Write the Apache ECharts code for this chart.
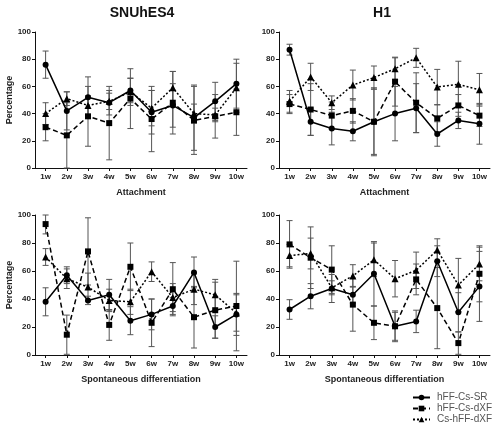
<!DOCTYPE html>
<html><head><meta charset="utf-8">
<script src="https://cdn.jsdelivr.net/npm/echarts@6/dist/echarts.min.js"></script>
<style>html,body{margin:0;padding:0;background:#fff}#c{width:494px;height:430px}</style>
</head><body><div id="c"></div><script>
const categories = ['1w','2w','3w','4w','5w','6w','7w','8w','9w','10w'];
const seriesNames = ['hFF-Cs-SR','hFF-Cs-dXF','Cs-hFF-dXF'];
const panelTitles = ['SNUhES4','H1'];
const xNames = ['Attachment','Spontaneous differentiation'];

// SNUhES4 - Attachment
const s4AttSR   = [76, 42, 52, 48, 57, 41, 46, 37, 49, 62];
const s4AttSRe  = [10, 14, 15, 9, 9, 16, 16, 24, 14, 18];
const s4AttDX   = [30, 24, 38, 33, 51, 36, 48, 35, 38, 41];
const s4AttDXe  = [10, 24, 22, 27, 22, 24, 23, 25, 16, 17];
const s4AttCS   = [40, 51, 46, 49, 56, 44, 59, 40, 39, 59];
const s4AttCSe  = [8, 5, 7, 6, 10, 13, 12, 7, 5, 18];
// H1 - Attachment
const h1AttSR   = [87, 34, 29, 27, 34, 40, 44, 25, 35, 32.5];
const h1AttSRe  = [4, 10, 12, 7, 25, 20, 18, 9, 6, 15];
const h1AttDX   = [47, 43, 38.5, 42, 34, 63.5, 48, 36.5, 46, 38.5];
const h1AttDXe  = [7, 19, 10, 9, 24, 18, 22, 10, 8, 8];
const h1AttCS   = [49, 67, 48, 61, 66.5, 73, 81, 59.5, 61.5, 57.5];
const h1AttCSe  = [8, 10, 5, 11, 8.5, 8, 7, 13, 17, 12];
// SNUhES4 - Spontaneous differentiation
const s4SdSR    = [38, 57, 39, 43, 24.5, 29, 35, 59, 20, 29];
const s4SdSRe   = [10, 6, 3, 11, 10, 11, 6, 11, 8, 15];
const s4SdDX    = [93.5, 14.5, 74, 21.5, 63, 23, 47, 27, 32, 35];
const s4SdDXe   = [7, 14, 24, 11, 17, 17, 19, 22, 20, 32];
const s4SdCS    = [70, 54.5, 48.5, 39, 38, 59.5, 41, 47, 43, 30];
const s4SdCSe   = [6, 7, 10, 8, 9, 7, 10, 11, 11, 13];
// H1 - Spontaneous differentiation
const h1SdSR    = [32.5, 42, 47.5, 43, 58, 20.5, 24, 67, 30.5, 49];
const h1SdSRe   = [7, 9, 10, 6, 23, 10, 8, 11, 14, 25];
const h1SdDX    = [79, 69.5, 61, 36, 23, 20.5, 54, 33.5, 8.5, 58];
const h1SdDXe   = [17, 22, 17, 19, 12, 11, 11, 29, 8, 20];
const h1SdCS    = [71, 72.5, 48, 56.5, 68, 54.5, 60.5, 75, 50, 65];
const h1SdCSe   = [8, 11, 5, 8, 12, 13, 13, 8, 19, 12];

const panels = [
  {grid:{left:35,top:32,width:212,height:136}, xName:xNames[0], yName:'Percentage',
   d:[[s4AttSR,s4AttSRe],[s4AttDX,s4AttDXe],[s4AttCS,s4AttCSe]]},
  {grid:{left:279,top:32,width:211,height:136}, xName:xNames[0], yName:'',
   d:[[h1AttSR,h1AttSRe],[h1AttDX,h1AttDXe],[h1AttCS,h1AttCSe]]},
  {grid:{left:35,top:215,width:212,height:140}, xName:xNames[1], yName:'Percentage',
   d:[[s4SdSR,s4SdSRe],[s4SdDX,s4SdDXe],[s4SdCS,s4SdCSe]]},
  {grid:{left:279,top:215,width:211,height:140}, xName:xNames[1], yName:'',
   d:[[h1SdSR,h1SdSRe],[h1SdDX,h1SdDXe],[h1SdCS,h1SdCSe]]}
];

const FONT = 'Liberation Sans, Arial, sans-serif';
const styles = [
  {symbol:'circle', size:6, type:'solid'},
  {symbol:'rect', size:6, type:[5,3]},
  {symbol:'triangle', size:7, type:[2,2]}
];

const grids = [], xAxes = [], yAxes = [], series = [];
panels.forEach((p, i) => {
  grids.push(p.grid);
  xAxes.push({type:'category', gridIndex:i, data:categories,
    axisLine:{lineStyle:{color:'#111', width:1}},
    axisTick:{show:true, alignWithLabel:true, length:3, lineStyle:{color:'#111'}},
    axisLabel:{fontSize:8, fontWeight:'bold', color:'#222', margin:5, interval:0, fontFamily:FONT},
    name:p.xName, nameLocation:'middle', nameGap:20,
    nameTextStyle:{fontSize:9, fontWeight:'bold', color:'#222', fontFamily:FONT}});
  yAxes.push({type:'value', gridIndex:i, min:0, max:100, interval:20,
    axisLine:{show:true, lineStyle:{color:'#111', width:1}},
    axisTick:{show:true, length:3, lineStyle:{color:'#111'}},
    axisLabel:{fontSize:8, fontWeight:'bold', color:'#222', margin:4, fontFamily:FONT},
    splitLine:{show:false},
    name:p.yName, nameLocation:'middle', nameGap:20, nameRotate:90,
    nameTextStyle:{fontSize:9, fontWeight:'bold', color:'#222', fontFamily:FONT}});
  p.d.forEach((pair, k) => {
    const vals = pair[0], errs = pair[1];
    series.push({type:'custom', name:'err'+i+'_'+k, xAxisIndex:i, yAxisIndex:i, z:1,
      data: vals.map((v, j) => [j, v, errs[j]]),
      encode:{x:0, y:1},
      renderItem:(params, api) => {
        const x = api.value(0), y = api.value(1), e = api.value(2);
        const top = api.coord([x, Math.min(100, y + e)]);
        const bot = api.coord([x, Math.max(0, y - e)]);
        const st = {stroke:'#555', lineWidth:1};
        return {type:'group', children:[
          {type:'line', shape:{x1:top[0], y1:top[1], x2:bot[0], y2:bot[1]}, style:st},
          {type:'line', shape:{x1:top[0]-3, y1:top[1], x2:top[0]+3, y2:top[1]}, style:st},
          {type:'line', shape:{x1:bot[0]-3, y1:bot[1], x2:bot[0]+3, y2:bot[1]}, style:st}
        ]};
      }});
    const s = styles[k];
    series.push({type:'line', name:seriesNames[k], xAxisIndex:i, yAxisIndex:i, z:3,
      data: vals, symbol:s.symbol, symbolSize:s.size, showAllSymbol:true,
      lineStyle:{color:'#000', width:1.5, type:s.type},
      itemStyle:{color:'#000'}});
  });
});

const chart = echarts.init(document.getElementById('c'), null, {renderer:'canvas'});
chart.setOption({
  animation:false,
  backgroundColor:'#fff',
  grid:grids, xAxis:xAxes, yAxis:yAxes, series:series,
  legend:{type:'plain', data:seriesNames, orient:'vertical', left:412, top:392, padding:0,
    itemWidth:17, itemHeight:7, itemGap:0,
    textStyle:{fontSize:10, lineHeight:11, color:'#555', fontFamily:FONT, padding:[0,0,0,2]}},
  graphic:[
    {type:'text', x:142, y:13, style:{text:panelTitles[0], textAlign:'center', textVerticalAlign:'middle', font:'bold 14px '+FONT, fill:'#111'}},
    {type:'text', x:382, y:13, style:{text:panelTitles[1], textAlign:'center', textVerticalAlign:'middle', font:'bold 14px '+FONT, fill:'#111'}}
  ]
});
</script></body></html>
